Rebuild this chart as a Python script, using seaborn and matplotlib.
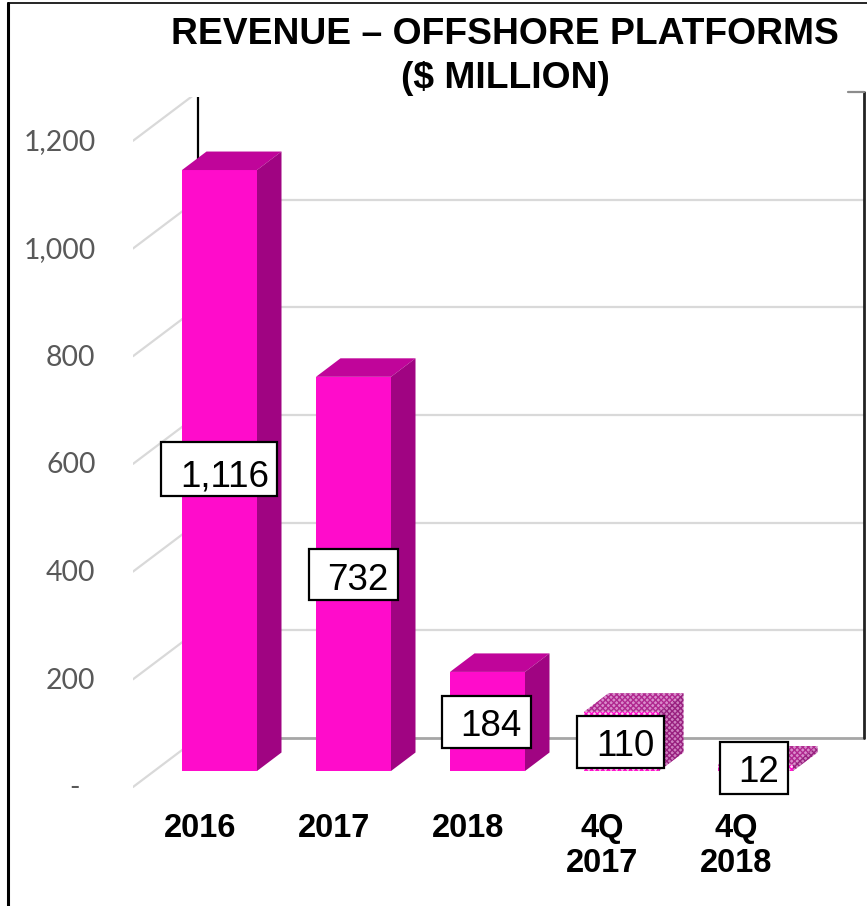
import matplotlib
matplotlib.use("Agg")
import matplotlib.pyplot as plt
from matplotlib.patches import Polygon, Rectangle
from matplotlib.lines import Line2D
from matplotlib.transforms import ScaledTranslation
import pandas as pd
import seaborn as sns

periods = ["2016", "2017", "2018", "4Q\n2017", "4Q\n2018"]
revenue = [1116, 732, 184, 110, 12]
value_labels = ["1,116", "732", "184", "110", "12"]
y_ticks = [0, 200, 400, 600, 800, 1000, 1200]
y_tick_labels = ["-  ", "200", "400", "600", "800", "1,000", "1,200"]
title_lines = ["REVENUE \u2013 OFFSHORE PLATFORMS", "($ MILLION)"]

W, H = 867, 906
PX_PER_UNIT = 0.5385
PX_PER_CAT = 134
BAR_PX = 75
FIRST_BAR_PX = 219.5
BASE_PX = 771
AX_LEFT, AX_RIGHT, AX_TOP, AX_BOTTOM = 133, 867, 97, 790

# label boxes in picture pixels: left, right, top, bottom, text centre x, text centre y
label_boxes = [
    (161, 277, 442, 496, 225, 473),
    (309, 398, 549, 600, 358, 576),
    (442, 531, 696, 748, 491, 723),
    (577, 664, 716, 768, 625, 743),
    (720, 788, 742, 794, 759, 769),
]


def fig_xy(x, y):
    return x / W, 1 - y / H


def cat_x(px):
    return (px - FIRST_BAR_PX) / PX_PER_CAT


def units(px):
    return px / PX_PER_UNIT


sns.set_style("white")
plt.rcParams["font.family"] = ["Liberation Sans", "DejaVu Sans"]

fig = plt.figure(figsize=(W / 100, H / 100), dpi=100)
ax = fig.add_axes([AX_LEFT / W, 1 - AX_BOTTOM / H,
                   (AX_RIGHT - AX_LEFT) / W, (AX_BOTTOM - AX_TOP) / H])
ax.patch.set_alpha(0)

df = pd.DataFrame({"period": periods, "revenue": revenue})
sns.barplot(data=df, x="period", y="revenue", color="#ff0ccb", saturation=1,
            width=BAR_PX / PX_PER_CAT, ax=ax, zorder=3, linewidth=0, edgecolor="none")

ax.set_xlim(cat_x(AX_LEFT), cat_x(AX_RIGHT))
ax.set_ylim(-units(AX_BOTTOM - BASE_PX), units(BASE_PX - AX_TOP))
ax.set_xlabel("")
ax.set_ylabel("")
sns.despine(ax=ax, left=True, bottom=True)

# 3D sides of the bars
depth_x = 24.5 / PX_PER_CAT
depth_y = units(18.5)
plt.rcParams["hatch.linewidth"] = 1.0
for i, bar in enumerate(ax.patches):
    x0, x1 = bar.get_x(), bar.get_x() + bar.get_width()
    top = bar.get_height()
    top_pts = [(x0, top), (x1, top), (x1 + depth_x, top + depth_y), (x0 + depth_x, top + depth_y)]
    side_pts = [(x1, 0), (x1, top), (x1 + depth_x, top + depth_y), (x1 + depth_x, depth_y)]
    if i < 3:
        ax.add_patch(Polygon(top_pts, fc="#c0059a", ec="none", zorder=3))
        ax.add_patch(Polygon(side_pts, fc="#a00482", ec="none", zorder=3))
    else:
        # the two quarters are patterned in the original
        bar.set_facecolor("#ffd0f2")
        bar.set_edgecolor("#ff0ccb")
        bar.set_hatch("xxxxxx")
        ax.add_patch(Polygon(top_pts, fc="#d98ccb", ec="#b0288f", hatch="xxxxxx", lw=0, zorder=3))
        ax.add_patch(Polygon(side_pts, fc="#cf80c0", ec="#98207f", hatch="xxxxxx", lw=0, zorder=3))

# walls: back wall gridlines and the floor/side diagonals
wall_left = cat_x(198)
wall_right = cat_x(864)
floor_front = -units(16)
floor_back = units(33)
for v in y_ticks:
    ax.plot([cat_x(AX_LEFT), wall_left], [v + floor_front, v + floor_back],
            color="#d9d9d9", lw=1.6, zorder=1)
    if 0 < v:
        ax.plot([wall_left, wall_right], [v + floor_back, v + floor_back],
                color="#d9d9d9", lw=1.6, zorder=1)
ax.plot([wall_left, wall_right], [floor_back, floor_back], color="#a6a6a6", lw=2, zorder=2)
ax.plot([wall_left, wall_left], [floor_back, units(BASE_PX - AX_TOP)], color="black", lw=1.6, zorder=2)
ax.plot([wall_right, wall_right], [floor_back, 1200 + floor_back], color="#222222", lw=2,
        zorder=2, clip_on=False)
ax.plot([cat_x(848), wall_right], [1200 + floor_back, 1200 + floor_back], color="#8c8c8c", lw=1.6,
        zorder=2, clip_on=False)

# tick labels
ax.set_yticks(y_ticks)
ax.set_yticklabels(y_tick_labels, fontfamily="Lato", fontsize=20.4, color="#595959")
ax.tick_params(axis="y", length=0, pad=27)
ax.tick_params(axis="x", length=0, pad=16.5)
ax.set_xticks(range(len(periods)))
ax.set_xticklabels(periods, fontsize=23.5, fontweight="bold", color="black", linespacing=1.15)
y_shift = ScaledTranslation(0, -15 / 100, fig.dpi_scale_trans)
x_shift = ScaledTranslation(-19.5 / 100, 0, fig.dpi_scale_trans)
for lab in ax.get_yticklabels():
    lab.set_transform(lab.get_transform() + y_shift)
for lab in ax.get_xticklabels():
    lab.set_transform(lab.get_transform() + x_shift)

# value labels in white boxes
for text, (left, right, top, bottom, cx, cy) in zip(value_labels, label_boxes):
    x0, y0 = fig_xy(left, bottom)
    x1, y1 = fig_xy(right, top)
    fig.add_artist(Rectangle((x0, y0), x1 - x0, y1 - y0, transform=fig.transFigure,
                             fc="white", ec="black", lw=1.6, zorder=5))
    tx, ty = fig_xy(cx, cy)
    fig.text(tx, ty, text, ha="center", va="center_baseline", fontsize=26.5, color="black", zorder=6)

# title
for line, y_px in zip(title_lines, [30, 74]):
    tx, ty = fig_xy(505, y_px)
    fig.text(tx, ty, line, ha="center", va="center_baseline", fontsize=26.8,
             fontweight="bold", color="black", zorder=6)

# slide frame
fig.add_artist(Line2D([8 / W, 8 / W], [0, 1 - 2.5 / H], color="black", lw=2.2))
fig.add_artist(Line2D([8 / W, 1], [1 - 2.5 / H, 1 - 2.5 / H], color="black", lw=1.2))

fig.savefig("out.png", dpi=100)
